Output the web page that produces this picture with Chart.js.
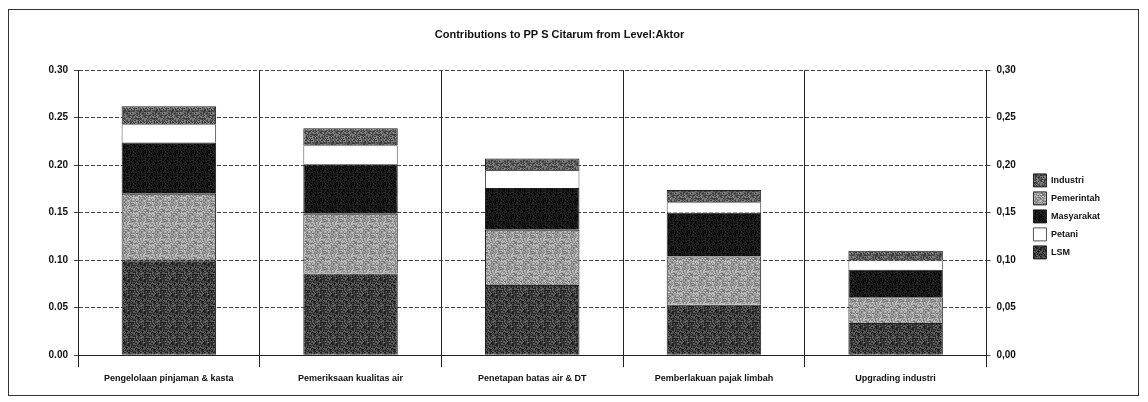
<!DOCTYPE html>
<html>
<head>
<meta charset="utf-8">
<script src="https://cdn.jsdelivr.net/npm/chart.js@4.4.1/dist/chart.umd.min.js"></script>
<style>
  html, body { margin: 0; padding: 0; background: #fff; }
  #frame {
    position: absolute; left: 8px; top: 9px; width: 1131px; height: 387px;
    border: 1px solid #333; box-sizing: border-box; background: #fff;
  }
  #wrap { position: absolute; left: 0; top: 0; width: 1129px; height: 385px; }
</style>
</head>
<body>
<div id="frame"><div id="wrap"><canvas id="aktorChart"></canvas></div></div>
<script>
// Data
const categories = [
  "Pengelolaan pinjaman & kasta",
  "Pemeriksaan kualitas air",
  "Penetapan batas air & DT",
  "Pemberlakuan pajak limbah",
  "Upgrading industri"
];
const lsm = [0.100, 0.086, 0.074, 0.053, 0.034];
const pemerintah = [0.070, 0.063, 0.058, 0.051, 0.027];
const masyarakat = [0.054, 0.052, 0.044, 0.046, 0.029];
const petani = [0.019, 0.020, 0.019, 0.011, 0.010];
const industri = [0.019, 0.018, 0.012, 0.013, 0.010];
const legendOrder = ["Industri", "Pemerintah", "Masyarakat", "Petani", "LSM"];
const leftTicks = ["0.00", "0.05", "0.10", "0.15", "0.20", "0.25", "0.30"];
const rightTicks = ["0,00", "0,05", "0,10", "0,15", "0,20", "0,25", "0,30"];

// speckled fill like the scanned print (deterministic, just texture)
function speckle(base, spread, seed) {
  const c = document.createElement("canvas");
  c.width = 16; c.height = 16;
  const g = c.getContext("2d");
  const img = g.createImageData(16, 16);
  let s = seed;
  for (let i = 0; i < 256; i++) {
    s = (s * 1103515245 + 12345) & 0x7fffffff;
    const v = Math.max(0, Math.min(255, base + ((s % (2 * spread + 1)) - spread)));
    img.data[i * 4] = v; img.data[i * 4 + 1] = v; img.data[i * 4 + 2] = v; img.data[i * 4 + 3] = 255;
  }
  g.putImageData(img, 0, 0);
  return g.createPattern(c, "repeat");
}

const fLsm = speckle(62, 40, 7);
const fPem = speckle(155, 45, 11);
const fMas = speckle(22, 18, 3);
const fInd = speckle(95, 45, 5);

const font = { family: "Liberation Sans, Arial, sans-serif", weight: "bold", size: 10 };

function ds(label, data, fill, border) {
  return {
    label: label, data: data, backgroundColor: fill,
    borderColor: border || "#222", borderWidth: 1,
    barPercentage: 0.52, categoryPercentage: 1.0
  };
}

new Chart(document.getElementById("aktorChart"), {
  type: "bar",
  data: {
    labels: categories,
    datasets: [
      ds("LSM", lsm, fLsm),
      ds("Pemerintah", pemerintah, fPem),
      ds("Masyarakat", masyarakat, fMas),
      ds("Petani", petani, "#ffffff", "#555"),
      ds("Industri", industri, fInd)
    ]
  },
  options: {
    responsive: true,
    maintainAspectRatio: false,
    animation: false,
    layout: { padding: { left: 0, right: 28, top: 6, bottom: 5 } },
    plugins: {
      title: {
        display: true,
        text: "Contributions to PP S Citarum from Level:Aktor",
        color: "#111",
        font: { family: font.family, weight: "bold", size: 11 },
        padding: { top: 12, bottom: 29 }
      },
      legend: {
        position: "right",
        title: { display: true, text: " ", font: { size: 9 }, padding: { top: 0, bottom: 16 } },
        labels: {
          color: "#111",
          font: { family: font.family, weight: "bold", size: 9 },
          boxWidth: 13, boxHeight: 13, padding: 5,
          sort: (a, b) => legendOrder.indexOf(a.text) - legendOrder.indexOf(b.text)
        }
      },
      tooltip: { enabled: false }
    },
    scales: {
      x: {
        stacked: true,
        grid: { offset: true, color: "#222", lineWidth: 1, tickLength: 12, drawTicks: true },
        border: { color: "#222" },
        ticks: { color: "#111", font: { family: font.family, weight: "bold", size: 9 }, maxRotation: 0, padding: 6 }
      },
      y: {
        stacked: true,
        min: 0, max: 0.3,
        ticks: {
          stepSize: 0.05, color: "#111", font: font, padding: 6,
          callback: (v, i) => leftTicks[i]
        },
        grid: { color: "#444", lineWidth: 1, tickLength: 4 },
        border: { color: "#222", dash: [4, 2] },
        afterFit: (a) => { a.width = 69; }
      },
      y2: {
        position: "right",
        min: 0, max: 0.3,
        ticks: {
          stepSize: 0.05, color: "#111", font: font, padding: 6,
          callback: (v, i) => rightTicks[i]
        },
        grid: { drawOnChartArea: false, tickLength: 4, color: "#444" },
        border: { color: "#222" },
        afterFit: (a) => { a.width = 42; }
      }
    }
  }
});
</script>
</body>
</html>
